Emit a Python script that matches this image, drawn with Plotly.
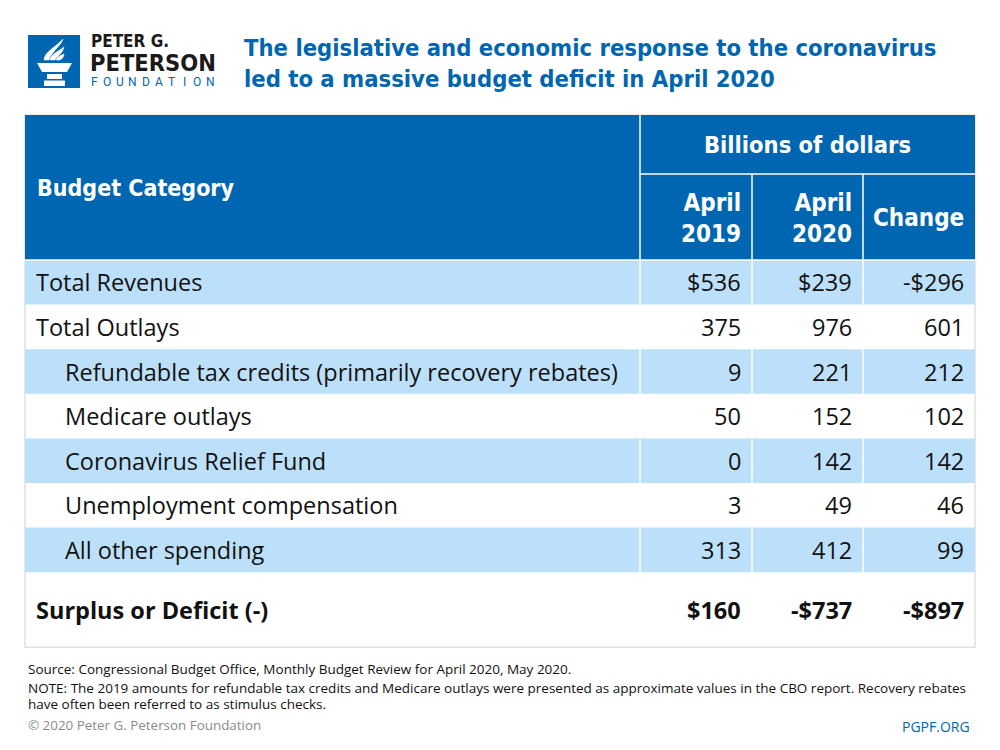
import plotly.graph_objects as go

# ---------------- data ----------------
categories = [
    "Total Revenues",
    "Total Outlays",
    "Refundable tax credits (primarily recovery rebates)",
    "Medicare outlays",
    "Coronavirus Relief Fund",
    "Unemployment compensation",
    "All other spending",
]
indent_level = [0, 0, 1, 1, 1, 1, 1]
dollar_row = [True, False, False, False, False, False, False]
april_2019 = [536, 375, 9, 50, 0, 3, 313]
april_2020 = [239, 976, 221, 152, 142, 49, 412]
change = [-296, 601, 212, 102, 142, 46, 99]

total_label = "Surplus or Deficit (-)"
total_2019 = 160
total_2020 = -737
total_change = -897

col_headers = ["April<br>2019", "April<br>2020", "Change"]
group_header = "Billions of dollars"
first_header = "Budget Category"

title_lines = ["The legislative and economic response to the coronavirus",
               "led to a massive budget deficit in April 2020"]
source_lines = [
    "Source: Congressional Budget Office, Monthly Budget Review for April 2020, May 2020.",
    "NOTE: The 2019 amounts for refundable tax credits and Medicare outlays were presented as approximate values in the CBO report. Recovery rebates",
    "have often been referred to as stimulus checks.",
]
copyright_text = "© 2020 Peter G. Peterson Foundation"
site_text = "PGPF.ORG"

# ---------------- style ----------------
BLUE = "#0066b1"
LIGHT = "#bde0fa"
TXT = "#111111"
BODY_FONT = "'Open Sans', 'Noto Sans', sans-serif"
COND_FONT = "'DejaVu Sans Condensed', 'DejaVu Sans', sans-serif"
BODY_SIZE = 23.5

def fmt(v, dollar):
    if dollar:
        return ("-$" if v < 0 else "$") + str(abs(v))
    return str(v)

# geometry (layout, in pixel-like axis units)
X0, X1 = 25, 975
col_edges = [640, 752, 863, 975]
H_TOP, H_SPLIT, B_TOP = 115, 174, 260
ROW_H = 44.6
TOTAL_H = 75

shapes = []
ann = []

def rect(x0, y0, x1, y1, fill, line=None, lw=0):
    shapes.append(dict(type="rect", xref="x", yref="y", x0=x0, y0=y0, x1=x1, y1=y1,
                       fillcolor=fill, line=dict(color=line or fill, width=lw), layer="below"))

def line(x0, y0, x1, y1, color, w):
    shapes.append(dict(type="line", xref="x", yref="y", x0=x0, y0=y0, x1=x1, y1=y1,
                       line=dict(color=color, width=w), layer="above"))

def text(x, y, s, size, color=TXT, family=BODY_FONT, xanchor="left", yanchor="middle", align="left"):
    ann.append(dict(x=x, y=y, xref="x", yref="y", text=s, showarrow=False,
                    font=dict(size=size, color=color, family=family),
                    xanchor=xanchor, yanchor=yanchor, align=align))

# ---------- logo ----------
rect(28, 35, 80, 88, BLUE)
for p in ["M 44 60 C 44 52 56 47 63 39 C 61 46 52 51 49 60 Z",
          "M 50 60 C 51 54 59 51 64 47 C 63 53 57 56 55 60 Z",
          "M 56 60 C 57 57 61 55 64 54 C 64 57 62 59 60 60 Z"]:
    shapes.append(dict(type="path", xref="x", yref="y", path=p,
                       fillcolor="white", line=dict(color="white", width=0.5)))
shapes.append(dict(type="path", xref="x", yref="y",
                   path="M 37 63 L 72 63 L 67 72 L 42 72 Z", fillcolor="white", line=dict(color="white", width=0)))
rect(47, 74, 62, 79, "white")
rect(44, 80.5, 65, 86, "white")
text(89, 41, "<b>PETER G.</b>", 17, "#1a1a1a", COND_FONT)
text(88, 63, "<b>PETERSON</b>", 23.5, "#1a1a1a", COND_FONT)
logo_word = "FOUNDATION"
for i, ch in enumerate(logo_word):
    text(94 + i * 12.9, 82, ch, 12, BLUE, "'Roboto', sans-serif", xanchor="center")

# ---------- title ----------
text(242, 48, "<b>" + title_lines[0] + "</b>", 23.6, BLUE, COND_FONT)
text(242, 79, "<b>" + title_lines[1] + "</b>", 23.6, BLUE, COND_FONT)

# ---------- table ----------
n = len(categories)
total_top = B_TOP + n * ROW_H
total_bot = total_top + TOTAL_H
rect(X0, H_TOP, X1, total_bot, "white", "#d9d9d9", 1.2)
rect(X0, H_TOP, X1, B_TOP, BLUE)
line(col_edges[0], H_TOP, col_edges[0], B_TOP, "white", 1.5)
line(col_edges[0], H_SPLIT, X1, H_SPLIT, "white", 1.5)
for cx in col_edges[1:3]:
    line(cx, H_SPLIT, cx, B_TOP, "white", 1.5)
line(X0, B_TOP, X1, B_TOP, "white", 1.5)

text(35, (H_TOP + B_TOP) / 2, "<b>" + first_header + "</b>", 23, "white", COND_FONT)
text((col_edges[0] + X1) / 2, (H_TOP + H_SPLIT) / 2, "<b>" + group_header + "</b>", 23.5, "white", COND_FONT, xanchor="center")
for i, h in enumerate(col_headers):
    text(col_edges[i + 1] - 9, (H_SPLIT + B_TOP) / 2 + 1, "<b>" + h + "</b>", 24, "white", COND_FONT,
         xanchor="right", align="right")

for r in range(n):
    y0 = B_TOP + r * ROW_H
    y1 = y0 + ROW_H
    ym = (y0 + y1) / 2
    if r % 2 == 0:
        rect(X0, y0, X1, y1, LIGHT)
        for cx in col_edges[:3]:
            line(cx, y0, cx, y1, "white", 1.5)
    lx = 34 + 29 * indent_level[r]
    text(lx, ym, categories[r], BODY_SIZE)
    for c, vals in enumerate([april_2019, april_2020, change]):
        text(col_edges[c + 1] - 9, ym, fmt(vals[r], dollar_row[r]), BODY_SIZE, xanchor="right")

ym = total_top + TOTAL_H / 2
text(34, ym, "<b>" + total_label + "</b>", BODY_SIZE)
for c, v in enumerate([total_2019, total_2020, total_change]):
    text(col_edges[c + 1] - 9, ym, "<b>" + fmt(v, True) + "</b>", BODY_SIZE, xanchor="right")

# ---------- footer ----------
text(26, 669, source_lines[0], 13.5)
text(26, 688, source_lines[1], 13.5)
text(26, 704, source_lines[2], 13.5)
text(26, 725, copyright_text, 13.4, "#8a8a8a")
text(972, 726, site_text, 14, BLUE, xanchor="right")

# page body has an 8px margin: size the figure and axes so that axis units equal page pixels
fig = go.Figure()
fig.update_layout(
    width=992, height=742,
    margin=dict(l=0, r=0, t=0, b=0),
    paper_bgcolor="white", plot_bgcolor="white",
    xaxis=dict(range=[8, 1000], visible=False, fixedrange=True),
    yaxis=dict(range=[750, 8], visible=False, fixedrange=True),
    shapes=shapes, annotations=ann, showlegend=False,
)
fig.write_html("out.html")
